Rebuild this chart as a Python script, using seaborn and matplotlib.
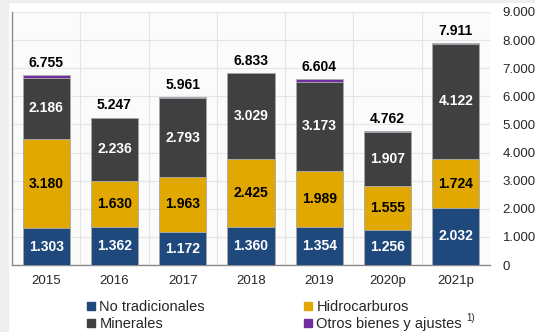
import numpy as np
import pandas as pd
import matplotlib
matplotlib.use("Agg")
import matplotlib.pyplot as plt
import seaborn as sns
from matplotlib.patches import Rectangle
from matplotlib.lines import Line2D

categories = ["2015", "2016", "2017", "2018", "2019", "2020p", "2021p"]
no_tradicionales = [1303, 1362, 1172, 1360, 1354, 1256, 2032]
hidrocarburos = [3180, 1630, 1963, 2425, 1989, 1555, 1724]
minerales = [2186, 2236, 2793, 3029, 3173, 1907, 4122]
otros = [86, 19, 33, 19, 88, 44, 33]
totales = [6755, 5247, 5961, 6833, 6604, 4762, 7911]

series_names = ["No tradicionales", "Hidrocarburos", "Minerales", "Otros bienes y ajustes"]
series_vals = [no_tradicionales, hidrocarburos, minerales, otros]
colors = ["#1f497d", "#e0a800", "#404040", "#7030a0"]
label_colors = ["white", "black", "white", None]

def fmt(v):
    return f"{v:,.0f}".replace(",", ".")

sns.set_style("white")
plt.rcParams['font.family'] = ['Liberation Sans', 'DejaVu Sans']

fig = plt.figure(figsize=(5.35, 3.32), dpi=100)
fig.patch.set_facecolor("white")
fig.add_artist(Rectangle((0, 0), 8/535, 1, transform=fig.transFigure, color="#efefef", zorder=0))
fig.add_artist(Rectangle((0, 1 - 2/332), 1, 2/332, transform=fig.transFigure, color="#efefef", zorder=0))

ax = fig.add_axes([12/535, (332-265)/332, (490-12)/535, (265-12)/332])
ax.set_facecolor("#fbfbfb")

cum = np.cumsum(np.array(series_vals), axis=0)
df = pd.DataFrame({"cat": categories})
for i in range(3, -1, -1):
    df["v"] = cum[i]
    sns.barplot(data=df, x="cat", y="v", color=colors[i], width=0.69,
                edgecolor="#b0b0b0", linewidth=0.6, saturation=1, ax=ax, zorder=3)

for i in range(3):
    bottoms = cum[i] - np.array(series_vals[i])
    for j, v in enumerate(series_vals[i]):
        ax.text(j, bottoms[j] + v / 2, fmt(v), ha="center", va="center",
                color=label_colors[i], fontsize=10, fontweight="bold", zorder=5)
for j, t in enumerate(totales):
    ax.text(j, t + 180, fmt(t), ha="center", va="bottom", color="black",
            fontsize=10, fontweight="bold", zorder=5)

ax.set_xlim(-0.5, 6.5)
ax.set_ylim(0, 9000)
ax.set_yticks(range(0, 9001, 1000))
ax.set_yticklabels([fmt(v) for v in range(0, 9001, 1000)], fontsize=9.5)
ax.yaxis.tick_right()
ax.tick_params(axis="y", length=0, pad=9)
ax.tick_params(axis="x", length=0, pad=7, labelsize=9.5)
ax.set_xlabel("")
ax.set_ylabel("")
ax.grid(axis="y", color="#e4e4e4", linewidth=0.8, zorder=0)
for xv in np.arange(0.5, 6.5, 1):
    ax.axvline(xv, color="#e4e4e4", linewidth=0.8, zorder=0)
for s in ["top", "right"]:
    ax.spines[s].set_visible(False)
for s in ["left", "bottom"]:
    ax.spines[s].set_color("#8a8a8a")
    ax.spines[s].set_linewidth(1.0)

handles = [Line2D([], [], marker="s", linestyle="none", markersize=6,
                  markerfacecolor=c, markeredgecolor=c) for c in colors]
order = [0, 2, 1, 3]
fig.legend([handles[k] for k in order], [series_names[k] for k in order],
           ncol=2, loc="upper left", bbox_to_anchor=(84/535, 1 - 300/332), frameon=False,
           fontsize=10.5, handletextpad=0.15, columnspacing=6.6, labelspacing=0.22,
           handlelength=0.9, borderpad=0, borderaxespad=0)
fig.text(466/535, 1 - 323/332, "1)", fontsize=7, ha="left", va="bottom")

fig.savefig("out.png", dpi=100)
